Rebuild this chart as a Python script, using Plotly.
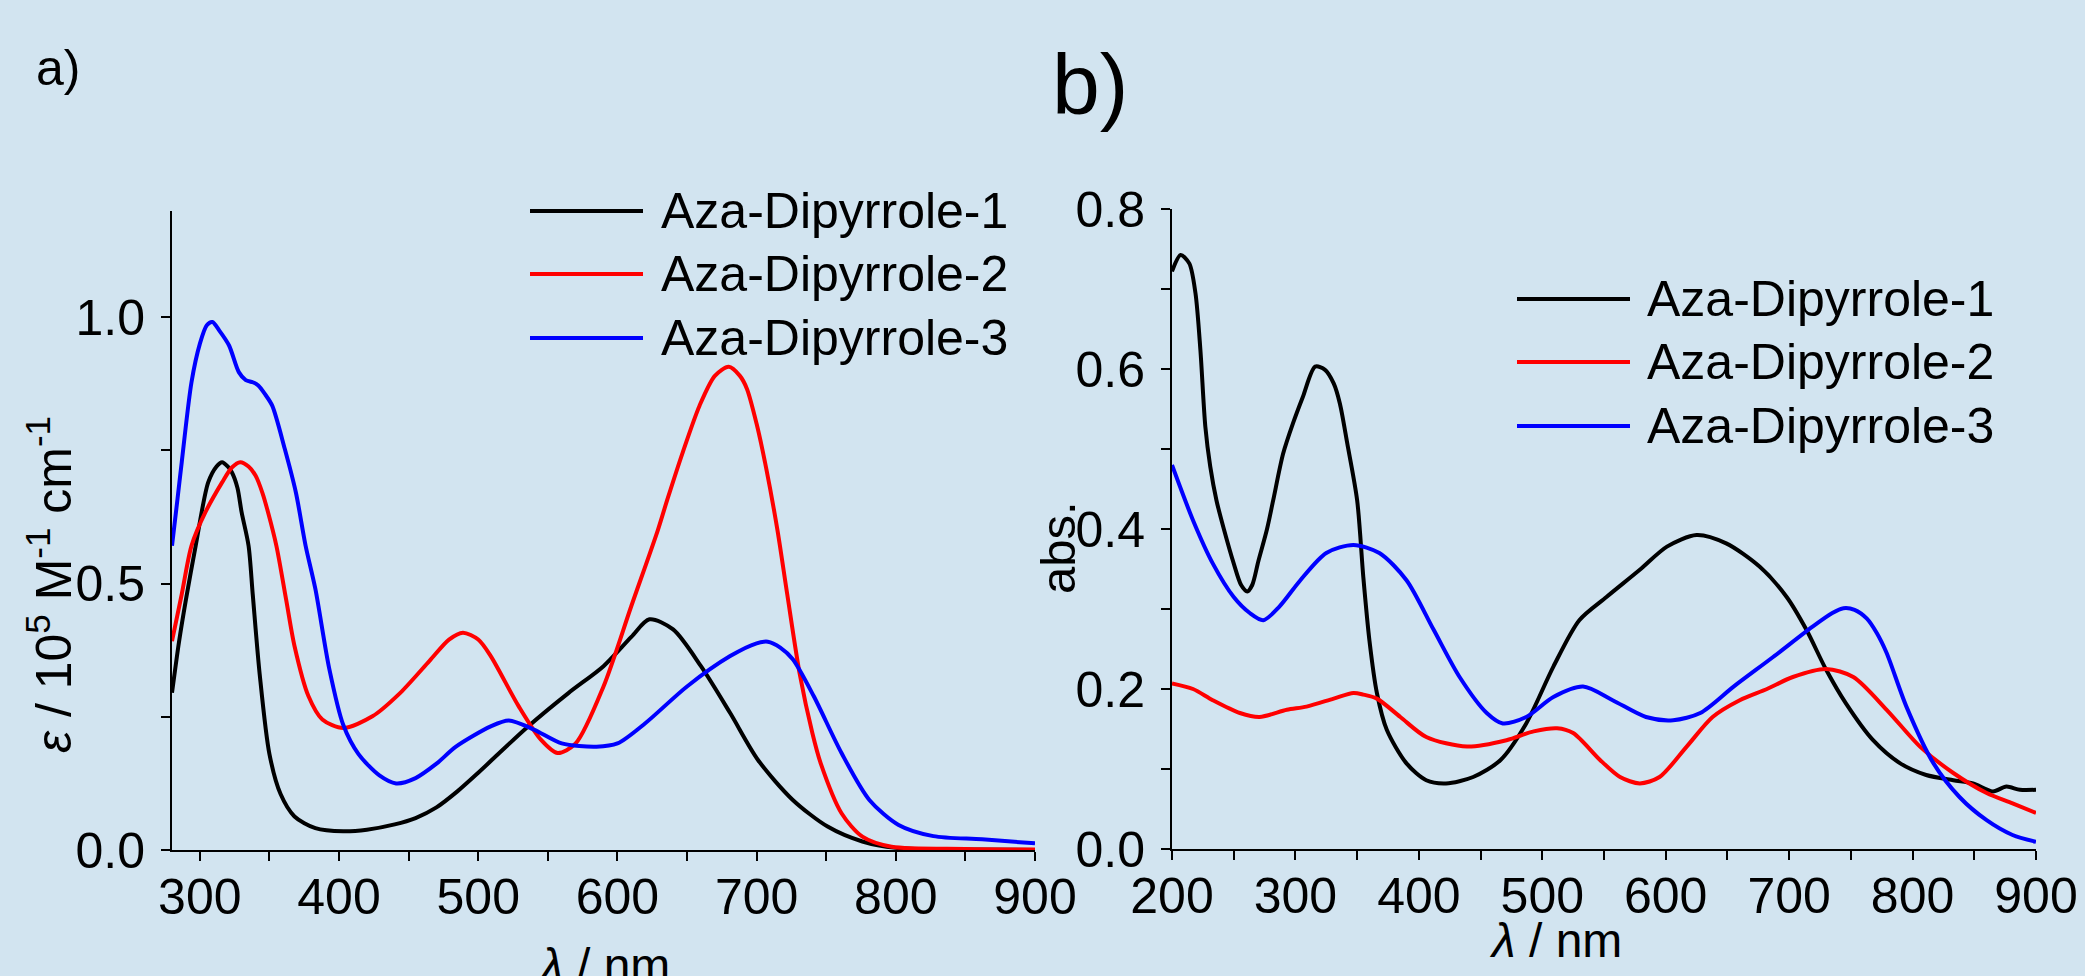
import plotly.graph_objects as go

W, H = 2085, 976
BG = "rgb(210,228,240)"
FONT = "Liberation Sans, Arial, sans-serif"

names = ["Aza-Dipyrrole-1", "Aza-Dipyrrole-2", "Aza-Dipyrrole-3"]
colors = ["#000000", "#ff0000", "#0000ff"]

# ---- panel a) molar absorptivity (1e5 M^-1 cm^-1) ----
a1_nm = [280, 285, 290, 297, 306, 312, 316, 320, 323, 327, 330, 335, 338, 343, 350, 358, 368, 383, 403,
         420, 440, 455, 470, 485, 500, 535, 565, 590, 610, 623, 640, 660, 681, 701, 726, 751, 776, 800,
         850, 900]
a1_val = [0.295, 0.39, 0.47, 0.571, 0.69, 0.72, 0.728, 0.72, 0.709, 0.68, 0.634, 0.571, 0.48, 0.33, 0.18,
          0.105, 0.063, 0.041, 0.035, 0.038, 0.048, 0.06, 0.08, 0.11, 0.145, 0.23, 0.295, 0.345, 0.40,
          0.433, 0.414, 0.345, 0.257, 0.169, 0.094, 0.044, 0.016, 0.004, 0.001, 0.0]

a2_nm = [280, 287, 294, 304, 316, 323, 329, 335, 340, 345, 349, 355, 362, 368, 378, 388, 403, 424, 444,
         465, 479, 489, 500, 509, 529, 545, 557, 570, 590, 610, 629, 636, 647, 659, 670, 680, 688, 693,
         700, 707, 715, 722, 731, 740, 746, 761, 776, 797, 850, 900]
a2_val = [0.392, 0.48, 0.571, 0.634, 0.69, 0.718, 0.728, 0.72, 0.703, 0.67, 0.634, 0.571, 0.47, 0.383,
          0.289, 0.245, 0.229, 0.251, 0.295, 0.355, 0.395, 0.408, 0.395, 0.364, 0.27, 0.207, 0.182, 0.2,
          0.307, 0.458, 0.60, 0.659, 0.747, 0.834, 0.89, 0.907, 0.89, 0.866, 0.80, 0.715, 0.60, 0.48,
          0.33, 0.22, 0.163, 0.069, 0.025, 0.006, 0.002, 0.001]

a3_nm = [280, 284, 287, 294, 300, 305, 309, 314, 321, 328, 333, 338, 342, 347, 352, 361, 369, 376, 383,
         393, 403, 414, 429, 441, 455, 470, 484, 509, 522, 540, 560, 585, 600, 620, 650, 681, 700, 708,
         717, 726, 741, 761, 781, 802, 827, 862, 900]
a3_val = [0.571, 0.66, 0.728, 0.878, 0.95, 0.985, 0.991, 0.975, 0.947, 0.897, 0.882, 0.878, 0.872, 0.855,
          0.834, 0.753, 0.671, 0.571, 0.49, 0.34, 0.235, 0.18, 0.14, 0.125, 0.135, 0.162, 0.194, 0.232,
          0.243, 0.226, 0.2, 0.194, 0.2, 0.238, 0.307, 0.364, 0.388, 0.391, 0.38, 0.358, 0.289, 0.182,
          0.094, 0.047, 0.026, 0.02, 0.0125]

# ---- panel b) absorbance ----
b1_nm = [200, 207, 214, 219, 223, 227, 231, 236, 242, 250, 256, 261, 265, 270, 277, 282, 290, 298, 306,
         316, 324, 331, 336, 342, 350, 355, 360, 366, 374, 390, 406, 422, 444, 466, 487, 509, 530, 552,
         579, 601, 625, 649, 676, 698, 714, 730, 746, 768, 790, 811, 833, 849, 865, 876, 887, 900]
b1_val = [0.722, 0.7425, 0.732, 0.695, 0.624, 0.528, 0.478, 0.436, 0.40, 0.357, 0.33, 0.322, 0.33, 0.36,
          0.40, 0.436, 0.494, 0.532, 0.565, 0.603, 0.599, 0.582, 0.557, 0.507, 0.436, 0.34, 0.26, 0.195,
          0.149, 0.107, 0.086, 0.082, 0.09, 0.111, 0.157, 0.228, 0.286, 0.315, 0.349, 0.378, 0.3925,
          0.382, 0.353, 0.315, 0.274, 0.224, 0.182, 0.136, 0.107, 0.0925, 0.086, 0.082, 0.072, 0.078,
          0.074, 0.074]

b2_nm = [200, 217, 233, 255, 271, 293, 309, 331, 347, 355, 366, 385, 406, 439, 471, 493, 512, 525, 547,
         563, 579, 595, 617, 638, 660, 682, 703, 730, 752, 779, 806, 833, 860, 881, 900]
b2_val = [0.207, 0.2, 0.186, 0.17, 0.165, 0.174, 0.178, 0.188, 0.195, 0.193, 0.188, 0.165, 0.14, 0.128,
          0.136, 0.147, 0.151, 0.145, 0.111, 0.09, 0.082, 0.09, 0.128, 0.165, 0.186, 0.2, 0.215, 0.225,
          0.215, 0.174, 0.128, 0.095, 0.07, 0.057, 0.045]

b3_nm = [200, 217, 233, 250, 263, 274, 287, 304, 325, 347, 368, 390, 412, 433, 455, 468, 487, 509, 533,
         557, 584, 606, 628, 655, 687, 719, 735, 744, 753, 763, 771, 779, 795, 817, 838, 860, 881, 900]
b3_val = [0.48, 0.411, 0.357, 0.315, 0.295, 0.286, 0.303, 0.336, 0.37, 0.38, 0.37, 0.336, 0.274, 0.215,
          0.17, 0.157, 0.165, 0.19, 0.203, 0.186, 0.165, 0.161, 0.17, 0.203, 0.24, 0.278, 0.295, 0.301,
          0.299, 0.288, 0.27, 0.245, 0.178, 0.107, 0.065, 0.036, 0.0175, 0.009]

a_ticks_x = [300, 400, 500, 600, 700, 800, 900]
a_ticks_y = [0.0, 0.5, 1.0]
b_ticks_x = [200, 300, 400, 500, 600, 700, 800, 900]
b_ticks_y = [0.0, 0.2, 0.4, 0.6, 0.8]


def px(x):
    return x / W


def py(y):
    return 1 - y / H


fig = go.Figure()
panel_a = [(a1_nm, a1_val), (a2_nm, a2_val), (a3_nm, a3_val)]
panel_b = [(b1_nm, b1_val), (b2_nm, b2_val), (b3_nm, b3_val)]
for i, (xs, ys) in enumerate(panel_a):
    fig.add_trace(go.Scatter(x=xs, y=ys, mode="lines", name=names[i], showlegend=False,
                             line=dict(color=colors[i], width=4, shape="spline", smoothing=0.8),
                             xaxis="x", yaxis="y"))
for i, (xs, ys) in enumerate(panel_b):
    fig.add_trace(go.Scatter(x=xs, y=ys, mode="lines", name=names[i], showlegend=False,
                             line=dict(color=colors[i], width=4, shape="spline", smoothing=0.8),
                             xaxis="x2", yaxis="y2"))

tickfont = dict(family=FONT, size=50, color="black")
common = dict(showline=True, linecolor="black", linewidth=2, ticks="outside", ticklen=9,
              tickwidth=2, tickcolor="black", showgrid=False, zeroline=False, tickfont=tickfont,
              automargin=False)
minor_common = dict(ticks="outside", ticklen=9, tickwidth=2, tickcolor="black")

fig.update_layout(
    template="none",
    width=W, height=H, autosize=False, margin=dict(l=0, r=0, t=0, b=0, pad=0),
    paper_bgcolor=BG, plot_bgcolor=BG, showlegend=False,
    xaxis=dict(domain=[px(172), px(1035)], range=[280, 900], tickvals=a_ticks_x, anchor="y",
               ticklabelstandoff=-7,
               minor=dict(dtick=50, tick0=250, **minor_common), **common),
    yaxis=dict(domain=[py(850), py(210.7)], range=[0, 1.2], tickvals=a_ticks_y, tickformat=".1f",
               anchor="x", ticklabelstandoff=6,
               minor=dict(dtick=0.25, tick0=0, **minor_common), **common),
    xaxis2=dict(domain=[px(1172), px(2036)], range=[200, 900], tickvals=b_ticks_x, anchor="y2",
                ticklabelstandoff=-7,
                minor=dict(dtick=50, tick0=250, **minor_common), **common),
    yaxis2=dict(domain=[py(849), py(209)], range=[0, 0.8], tickvals=b_ticks_y, tickformat=".1f",
                anchor="x2", ticklabelstandoff=6,
                minor=dict(dtick=0.1, tick0=0, **minor_common), **common),
)

ann = []
shapes = []
# panel labels
ann.append(dict(text="a)", x=px(34), y=py(68), xref="paper", yref="paper", xanchor="left",
                yanchor="middle", showarrow=False, font=dict(family=FONT, size=50, color="black")))
ann.append(dict(text="b)", x=px(1050), y=py(84), xref="paper", yref="paper", xanchor="left",
                yanchor="middle", showarrow=False, font=dict(family=FONT, size=86, color="black")))
# axis titles
ann.append(dict(text="<i>ε</i> / 10<sup>5</sup> M<sup>-1</sup> cm<sup>-1</sup>", x=px(50), y=py(585),
                xref="paper", yref="paper", xanchor="center", yanchor="middle", textangle=-90,
                showarrow=False, font=dict(family=FONT, size=50, color="black")))
ann.append(dict(text="<i>λ</i> / nm", x=px(603), y=py(965), xref="paper", yref="paper",
                xanchor="center", yanchor="middle", showarrow=False,
                font=dict(family=FONT, size=48, color="black")))
ann.append(dict(text="abs.", x=px(1058), y=py(548), xref="paper", yref="paper", xanchor="center",
                yanchor="middle", textangle=-90, showarrow=False,
                font=dict(family=FONT, size=49, color="black")))
ann.append(dict(text="<i>λ</i> / nm", x=px(1555), y=py(940), xref="paper", yref="paper",
                xanchor="center", yanchor="middle", showarrow=False,
                font=dict(family=FONT, size=48, color="black")))

# legends (manual, long line samples)
for (lx0, lx1, tx, rows) in [(530, 643, 659, [211, 274, 338]), (1517, 1630, 1645, [299, 362, 426])]:
    for i, ry in enumerate(rows):
        shapes.append(dict(type="line", xref="paper", yref="paper", x0=px(lx0), x1=px(lx1),
                           y0=py(ry), y1=py(ry), line=dict(color=colors[i], width=4)))
        ann.append(dict(text=names[i], x=px(tx), y=py(ry), xref="paper", yref="paper",
                        xanchor="left", yanchor="middle", showarrow=False,
                        font=dict(family=FONT, size=50, color="black")))

fig.update_layout(annotations=ann, shapes=shapes)
fig.write_html("out.html", config={"displayModeBar": False},
               post_script="document.body.style.margin='0';document.body.style.overflow='hidden';"
                           "document.body.style.background='" + BG + "';")
